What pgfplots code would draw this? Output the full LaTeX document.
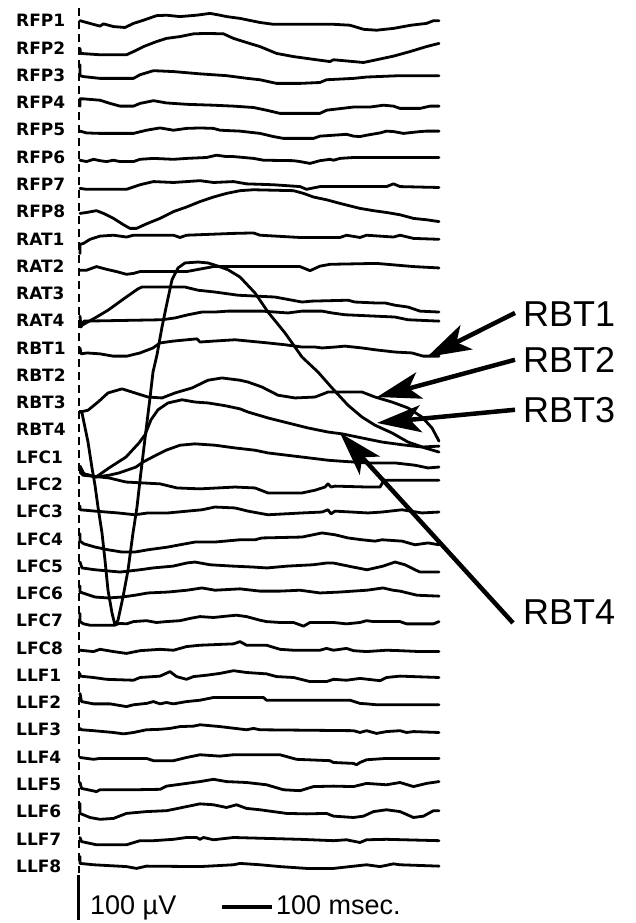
\documentclass[border=0pt]{standalone}
\usepackage{pgfplots}
\pgfplotsset{compat=1.18}
\usepackage{fontspec}
\setmainfont{Liberation Sans}
\newfontfamily\leadfont{DejaVu Sans}
\usetikzlibrary{arrows.meta}

% one channel every 60 uV, channel 0 on top
\pgfplotsset{
  ch/.style={y filter/.expression={y-60*#1}},
  every axis plot/.append style={black, line width=2.8pt, line join=round, line cap=round},
}
\tikzset{
  lead/.style={anchor=west, inner sep=0pt, font=\leadfont\bfseries\fontsize{17}{17}\selectfont},
  callout/.style={line width=4.5pt, -{Stealth[length=44pt, width=27pt, inset=11pt]}},
  big/.style={inner sep=0pt, font=\fontsize{36}{36}\selectfont},
}

\begin{document}
\begin{tikzpicture}
\begin{axis}[
  scale only axis, width=636pt, height=923pt,
  xmin=-160, xmax=1112, ymin=-1985.1, ymax=45.5,
  hide axis, clip=false, no markers,
]
% --- frontal pole, right
\addplot[ch=0] coordinates {(0,0)(23,-7)(40,-12)(47,-7)(67,-13)(90,-15)(107,-6)(127,1)(153,11)(173,12)(200,9)(233,12)(260,16)(280,12)(293,9)(320,5)(360,-4)(387,-8)(507,-8)(540,-10)(567,-19)(593,-21)(627,-17)(662,-10)(693,-6)(707,0)(718,0)};
\addplot[ch=1] coordinates {(0,-1)(1,-12)(13,-13)(40,-15)(93,-15)(107,-8)(127,3)(153,14)(173,21)(200,25)(227,31)(253,32)(287,31)(307,21)(333,12)(360,3)(393,-12)(427,-19)(473,-26)(500,-30)(507,-26)(547,-30)(567,-32)(593,-26)(627,-18)(660,-8)(693,3)(718,10)};
\addplot[ch=2] coordinates {(0,23)(0,-1)(7,-3)(40,-7)(107,-7)(120,1)(147,10)(187,8)(240,3)(293,-1)(335,-7)(360,-10)(393,-18)(440,-18)(480,-16)(493,-10)(547,-7)(573,-4)(640,-1)(718,-1)};
\addplot[ch=3] coordinates {(0,-8)(0,8)(7,8)(40,5)(60,-2)(80,-8)(107,-8)(120,-2)(147,4)(173,-1)(213,-4)(267,-6)(307,-8)(347,-11)(373,-17)(400,-24)(480,-24)(493,-17)(547,-10)(580,-10)(607,-6)(627,-8)(640,-13)(680,-13)(700,-8)(718,-8)};
\addplot[ch=4] coordinates {(0,-3)(13,-7)(40,-8)(107,-8)(133,-1)(160,4)(187,-1)(213,3)(240,4)(267,3)(280,-1)(320,-3)(360,-8)(387,-15)(407,-19)(467,-19)(480,-14)(507,-12)(533,-10)(547,-14)(560,-15)(573,-12)(600,-7)(613,-3)(627,-4)(647,-8)(680,-4)(693,-3)(718,-3)};
\addplot[ch=5] coordinates {(0,-7)(13,-10)(27,-5)(40,-8)(53,-10)(67,-7)(80,-10)(107,-10)(120,-5)(147,-3)(187,-5)(213,-3)(253,-1)(273,4)(293,1)(307,1)(347,-3)(367,-7)(427,-8)(440,-10)(460,-14)(480,-8)(500,-5)(507,-7)(520,-3)(547,-1)(667,-1)(718,-1)};
\addplot[ch=6] coordinates {(0,-9)(13,-11)(93,-11)(120,-1)(147,6)(187,4)(240,8)(267,4)(307,6)(333,1)(387,-1)(440,-5)(453,-11)(480,-5)(613,-5)(627,1)(640,-5)(718,-7)};
\addplot[ch=7] coordinates {(0,-4)(13,-2)(33,2)(47,-4)(67,-15)(87,-29)(100,-37)(113,-37)(133,-27)(160,-15)(187,0)(213,10)(240,22)(267,32)(293,40)(320,46)(347,48)(427,46)(447,40)(467,32)(493,26)(520,18)(560,7)(587,2)(613,-2)(640,-7)(667,-15)(693,-18)(718,-22)};
% --- anterior temporal, right
\addplot[ch=8] coordinates {(0,-32)(0,-12)(7,-10)(20,-1)(40,6)(67,8)(93,4)(107,8)(187,8)(200,3)(213,8)(307,12)(347,13)(360,8)(440,3)(520,3)(533,8)(560,3)(573,8)(627,4)(640,8)(667,1)(718,-1)};
\addplot[ch=9] coordinates {(0,-9)(13,-9)(33,-1)(53,-7)(73,-12)(93,-18)(107,-16)(120,-12)(187,-12)(213,-12)(267,-1)(440,-1)(460,-10)(480,0)(500,4)(593,6)(667,-1)(718,-4)};
\addplot[ch=10] coordinates {(0,-65)(4,-70)(30,-54)(56,-37)(90,-10)(116,10)(124,14)(210,14)(236,7)(270,3)(316,-4)(390,-8)(444,-19)(464,-17)(536,-15)(550,-19)(590,-21)(610,-21)(630,-26)(656,-30)(680,-39)(718,-41)};
\addplot[ch=11] coordinates {(0,10)(2,-14)(8,-1)(164,2)(190,6)(216,13)(244,19)(270,19)(296,21)(320,21)(364,21)(416,17)(444,21)(484,21)(504,17)(530,13)(630,8)(656,2)(718,-1)};
% --- basal temporal, right
\addplot[ch=12] coordinates {(0,0)(2,-13)(14,-11)(40,-13)(66,-18)(94,-18)(120,-11)(146,0)(160,11)(186,15)(214,18)(234,20)(240,13)(266,15)(310,18)(376,11)(410,7)(444,2)(470,2)(484,0)(510,2)(530,4)(564,0)(590,-4)(630,-9)(664,-11)(686,-18)(718,-18)};
\addplot[ch=13] coordinates {(0,-81)(16,-77)(36,-59)(56,-39)(84,-30)(110,-39)(136,-48)(164,-50)(190,-39)(224,-28)(256,-11)(284,-6)(320,-11)(336,-15)(364,-26)(396,-44)(430,-50)(470,-48)(496,-37)(510,-37)(564,-37)(590,-48)(624,-59)(656,-72)(684,-92)(704,-116)(718,-145)};
\addplot[ch=14] coordinates {(0,-19)(4,-23)(16,-87)(24,-144)(30,-182)(36,-230)(44,-287)(50,-347)(56,-413)(64,-463)(70,-490)(76,-479)(86,-428)(96,-369)(106,-287)(114,-230)(120,-171)(126,-116)(134,-43)(140,10)(146,67)(154,105)(164,166)(174,219)(184,270)(196,296)(210,307)(236,309)(256,307)(276,300)(296,292)(320,276)(350,241)(376,199)(410,153)(444,100)(476,67)(504,32)(536,-6)(564,-32)(590,-50)(624,-67)(656,-87)(690,-100)(718,-109)};
\addplot[ch=15] coordinates {(0,-88)(8,-97)(32,-104)(58,-84)(92,-60)(118,-29)(130,-11)(142,22)(156,44)(176,59)(204,66)(230,61)(256,59)(290,53)(320,46)(336,39)(376,26)(416,15)(456,4)(496,-5)(524,-9)(564,-18)(604,-27)(644,-33)(684,-38)(718,-36)};
% --- frontal convexity, left
\addplot[ch=16] coordinates {(0,-20)(8,-37)(32,-44)(58,-40)(78,-35)(112,-22)(126,-11)(152,4)(172,15)(200,26)(230,29)(270,26)(310,20)(350,15)(376,9)(444,0)(496,-7)(520,-9)(576,-13)(630,-13)(670,-18)(696,-24)(718,-22)};
\addplot[ch=17] coordinates {(0,27)(6,20)(58,14)(92,5)(126,3)(160,1)(194,-8)(240,-10)(310,-6)(350,-8)(376,-19)(444,-19)(470,-13)(490,-6)(496,1)(502,-6)(510,-4)(576,-6)(600,-6)(608,9)(718,9)};
\addplot[ch=18] coordinates {(0,12)(0,4)(30,1)(76,-3)(110,-7)(136,-3)(176,-3)(244,4)(270,10)(310,8)(336,1)(376,-7)(444,-3)(484,-1)(496,4)(502,-5)(510,1)(576,-3)(604,-1)(644,4)(684,-3)(718,-1)};
\addplot[ch=19] coordinates {(0,11)(0,-5)(8,-11)(30,-18)(56,-24)(84,-29)(110,-29)(136,-24)(176,-18)(200,-13)(230,-7)(270,-7)(320,-2)(350,-2)(364,2)(444,4)(484,13)(510,9)(536,2)(564,-2)(590,-5)(604,-2)(644,-5)(670,-13)(696,-9)(718,-13)};
\addplot[ch=20] coordinates {(0,9)(4,-4)(30,-8)(80,-13)(120,-8)(146,-4)(186,0)(214,7)(230,9)(260,3)(306,0)(346,-2)(374,-4)(414,0)(466,3)(494,7)(506,7)(546,-2)(574,-8)(606,0)(630,9)(650,3)(670,-8)(680,-13)(718,-13)};
\addplot[ch=21] coordinates {(0,16)(0,3)(30,-8)(56,-10)(84,-8)(110,-4)(136,1)(176,3)(214,7)(244,12)(270,7)(320,10)(360,5)(400,5)(440,7)(480,1)(520,3)(546,5)(574,7)(606,12)(626,7)(640,5)(674,-4)(718,-6)};
\addplot[ch=22] coordinates {(0,16)(0,-2)(7,-7)(20,-10)(67,-10)(80,-6)(93,-7)(107,-2)(133,0)(153,-4)(173,-2)(200,0)(220,5)(240,9)(267,7)(293,10)(313,12)(333,9)(360,1)(373,-2)(400,-4)(427,-4)(447,-12)(460,-4)(507,-4)(533,-7)(560,-4)(573,0)(587,-2)(640,-2)(653,-7)(707,-7)(718,-2)};
\addplot[ch=23] coordinates {(0,-5)(27,-8)(40,-3)(67,-8)(93,-12)(120,-6)(160,-3)(187,-5)(213,3)(240,6)(307,9)(320,14)(333,6)(373,6)(400,-3)(427,-5)(480,-5)(493,-1)(507,-5)(533,-1)(547,-6)(573,-8)(613,-5)(640,-6)(680,-8)(718,-8)};
% --- lateral frontal, left
\addplot[ch=24] coordinates {(0,4)(0,-2)(27,-5)(53,-9)(107,-11)(120,-5)(160,-2)(180,8)(193,-3)(213,-9)(227,-3)(253,0)(280,4)(307,10)(333,6)(373,3)(393,-3)(427,-5)(460,-14)(493,-14)(507,-9)(533,-11)(560,-7)(600,-12)(613,-5)(640,-2)(718,-5)};
\addplot[ch=25] coordinates {(0,20)(3,2)(27,-3)(60,-3)(93,-9)(107,-5)(133,-2)(147,2)(160,-3)(173,0)(187,-3)(213,2)(240,5)(267,11)(307,11)(367,11)(373,5)(540,5)(560,-2)(573,-3)(593,-5)(718,-5)};
\addplot[ch=26] coordinates {(0,3)(3,0)(27,-2)(67,-6)(87,-9)(107,-6)(133,0)(160,1)(180,3)(200,7)(227,8)(240,11)(280,7)(333,0)(347,3)(360,0)(547,-2)(560,-6)(573,-2)(593,-8)(613,-4)(640,-2)(653,-6)(667,-4)(718,-6)};
\addplot[ch=27] coordinates {(0,-1)(27,-5)(40,-3)(133,-3)(147,-8)(187,-8)(213,-1)(240,5)(280,2)(307,5)(400,5)(433,-5)(500,-8)(507,-12)(547,-14)(553,-17)(560,-12)(573,-6)(613,-3)(718,-3)};
\addplot[ch=28] coordinates {(0,4)(3,-9)(33,-16)(40,-12)(107,-12)(160,-11)(173,-4)(213,2)(240,6)(267,11)(293,6)(333,4)(373,-1)(407,-12)(440,-14)(467,-5)(507,-4)(547,-5)(573,2)(613,-1)(640,4)(667,-5)(693,2)(718,6)};
\addplot[ch=29] coordinates {(0,18)(0,-4)(20,-13)(40,-17)(67,-15)(93,-4)(133,0)(173,2)(187,5)(213,11)(240,17)(267,15)(293,9)(313,15)(333,7)(360,4)(373,2)(413,-4)(453,-5)(493,-4)(507,-10)(547,-13)(567,-10)(587,0)(613,4)(640,0)(667,-13)(687,-10)(707,2)(718,2)};
\addplot[ch=30] coordinates {(0,3)(3,-6)(33,-13)(93,-13)(120,-4)(147,-4)(187,-1)(213,3)(233,3)(240,-1)(247,3)(267,-2)(307,3)(373,1)(440,-1)(507,-4)(533,-2)(560,-8)(573,-2)(613,-1)(718,-4)};
\addplot[ch=31] coordinates {(0,21)(0,6)(27,3)(93,-1)(113,-5)(133,0)(240,-1)(307,3)(320,6)(360,3)(400,-1)(453,-5)(507,-5)(540,-1)(573,3)(600,-1)(627,5)(640,3)(718,0)};

% channel names, one per baseline
\foreach \name [count=\k from 0] in {RFP1,RFP2,RFP3,RFP4,RFP5,RFP6,RFP7,RFP8,
    RAT1,RAT2,RAT3,RAT4,RBT1,RBT2,RBT3,RBT4,
    LFC1,LFC2,LFC3,LFC4,LFC5,LFC6,LFC7,LFC8,
    LLF1,LLF2,LLF3,LLF4,LLF5,LLF6,LLF7,LLF8}{
  \edef\tmp{\noexpand\node[lead] at (axis cs:-128,{-60*\k}) {\name};}\tmp
}

% stimulus onset
\draw[line width=2.5pt, dash pattern=on 8pt off 5pt] (axis cs:-2,28) -- (axis cs:-2,-1875);

% callouts
\draw[callout] (axis cs:870,-643) -- (axis cs:694,-740);
\draw[callout] (axis cs:870,-746) -- (axis cs:594,-828);
\draw[callout] (axis cs:870,-856) -- (axis cs:594,-885);
\draw[callout] (axis cs:866,-1325) -- (axis cs:520,-907);
\node[big, anchor=west] at (axis cs:886,-645) {RBT1};
\node[big, anchor=west] at (axis cs:886,-746) {RBT2};
\node[big, anchor=west] at (axis cs:886,-856) {RBT3};
\node[big, anchor=west] at (axis cs:886,-1301) {RBT4};

% scale bars: 100 uV, 100 ms
\draw[line width=3.5pt] (axis cs:-3,-1879) -- (axis cs:-3,-1979);
\draw[line width=4pt] (axis cs:284,-1950) -- (axis cs:384,-1950);
\node[anchor=base west, inner sep=0pt, font=\fontsize{27}{27}\selectfont] at (axis cs:20,-1967) {100 µV};
\node[anchor=base west, inner sep=0pt, font=\fontsize{27}{27}\selectfont] at (axis cs:392,-1967) {100 msec.};

\coordinate (bl) at (rel axis cs:0,0);
\coordinate (tr) at (rel axis cs:1,1);
\end{axis}
\pgfresetboundingbox
\path (bl) rectangle (tr);
\end{tikzpicture}
\end{document}
